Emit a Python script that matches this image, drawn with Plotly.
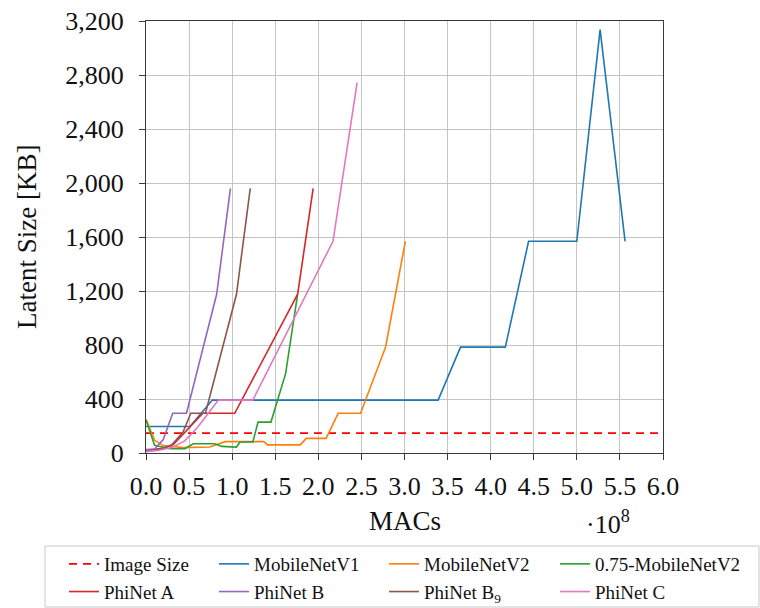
import plotly.graph_objects as go

# MACs are given in units of 1e8, latent sizes in KB
image_size_x = [0.0, 6.0]
image_size_y = [147, 147]

mnv1_x = [0.0, 0.51, 0.77, 3.39, 3.65, 4.17, 4.44, 5.00, 5.27, 5.56]
mnv1_y = [196, 196, 392, 392, 784, 784, 1568, 1568, 3136, 1568]

mnv2_x = [0.0, 0.10, 0.20, 0.43, 0.74, 0.92, 1.37, 1.41, 1.79, 1.86, 2.09, 2.23, 2.49, 2.78, 3.01]
mnv2_y = [250, 94, 55, 40, 44, 84, 84, 60, 60, 108, 108, 294, 294, 784, 1568]

mnv2_075_x = [0.0, 0.10, 0.28, 0.45, 0.55, 0.80, 0.88, 1.05, 1.09, 1.24, 1.30, 1.45, 1.62, 1.76]
mnv2_075_y = [245, 57, 32, 32, 69, 69, 49, 44, 81, 81, 229, 229, 588, 1176]

phinet_a_x = [0.0, 0.10, 0.20, 0.32, 0.45, 0.66, 1.03, 1.76, 1.94]
phinet_a_y = [20, 25, 35, 64, 150, 294, 294, 1176, 1960]

phinet_b_x = [0.0, 0.10, 0.20, 0.31, 0.47, 0.82, 0.98]
phinet_b_y = [25, 30, 100, 294, 294, 1176, 1960]

phinet_b9_x = [0.0, 0.10, 0.20, 0.30, 0.43, 0.52, 0.69, 1.05, 1.21]
phinet_b9_y = [15, 20, 35, 60, 155, 294, 294, 1176, 1960]

phinet_c_x = [0.0, 0.15, 0.30, 0.45, 0.60, 0.84, 1.24, 2.17, 2.45]
phinet_c_y = [10, 20, 40, 90, 190, 392, 392, 1568, 2744]

x_ticks = [0.0, 0.5, 1.0, 1.5, 2.0, 2.5, 3.0, 3.5, 4.0, 4.5, 5.0, 5.5, 6.0]
x_tick_labels = ["0.0", "0.5", "1.0", "1.5", "2.0", "2.5", "3.0", "3.5",
                 "4.0", "4.5", "5.0", "5.5", "6.0"]
y_ticks = [0, 400, 800, 1200, 1600, 2000, 2400, 2800, 3200]

FONT = "Liberation Serif"

series = [
    ("Image Size", image_size_x, image_size_y, "#ff0000", "8px,6px", "legend"),
    ("MobileNetV1", mnv1_x, mnv1_y, "#1f77b4", "solid", "legend2"),
    ("MobileNetV2", mnv2_x, mnv2_y, "#ff7f0e", "solid", "legend3"),
    ("0.75-MobileNetV2", mnv2_075_x, mnv2_075_y, "#2ca02c", "solid", "legend4"),
    ("PhiNet A", phinet_a_x, phinet_a_y, "#d62728", "solid", "legend"),
    ("PhiNet B", phinet_b_x, phinet_b_y, "#9467bd", "solid", "legend2"),
    ("PhiNet B<sub>9</sub>", phinet_b9_x, phinet_b9_y, "#8c564b", "solid", "legend3"),
    ("PhiNet C", phinet_c_x, phinet_c_y, "#e377c2", "solid", "legend4"),
]

fig = go.Figure()
for name, xs, ys, color, dash, leg in series:
    fig.add_trace(go.Scatter(
        x=xs, y=ys, mode="lines", name=name,
        line=dict(color=color, width=1.6, dash=dash),
        legend=leg,
    ))

W, H = 760, 608
L, R, T, B = 146, 97, 21, 155
pw, ph = W - L - R, H - T - B


def px_x(p):
    return (p - L) / pw


def px_y(p):
    return (H - B - p) / ph


axis_common = dict(
    showline=True, mirror=True, linecolor="#3a3a3a", linewidth=1.3,
    showgrid=True, gridcolor="#c4c4c4", gridwidth=1.2,
    ticks="outside", ticklen=6, tickwidth=1.2, tickcolor="#3a3a3a",
    zeroline=False, automargin=False,
    tickfont=dict(family=FONT, size=26, color="#111111"),
)

fig.update_layout(
    width=W, height=H,
    margin=dict(l=L, r=R, t=T, b=B, autoexpand=False),
    paper_bgcolor="white", plot_bgcolor="white",
    xaxis=dict(range=[0, 6], tickvals=x_ticks, ticktext=x_tick_labels,
               ticklabelstandoff=4, **axis_common),
    yaxis=dict(range=[0, 3200], tickvals=y_ticks, tickformat=",d",
               ticklabelstandoff=10, **axis_common),
    showlegend=True,
)

legend_style = dict(
    orientation="v", yanchor="top", xanchor="left",
    y=px_y(545), bgcolor="rgba(0,0,0,0)", borderwidth=0,
    font=dict(family=FONT, size=19, color="#111111"),
    itemclick=False, itemdoubleclick=False,
)
fig.update_layout(
    legend=dict(x=px_x(64), **legend_style),
    legend2=dict(x=px_x(214), **legend_style),
    legend3=dict(x=px_x(384), **legend_style),
    legend4=dict(x=px_x(555), **legend_style),
)

# legend frame
fig.add_shape(type="rect", xref="paper", yref="paper",
              x0=px_x(45), x1=px_x(759), y0=px_y(607), y1=px_y(546),
              line=dict(color="#c8c8c8", width=1), fillcolor="rgba(0,0,0,0)")

fig.add_annotation(text="MACs", xref="paper", yref="paper",
                   x=0.5, y=px_y(521), xanchor="center", yanchor="middle",
                   showarrow=False, font=dict(family=FONT, size=27, color="#111111"))
fig.add_annotation(text="\u00b710<sup>8</sup>", xref="paper", yref="paper",
                   x=px_x(632), y=px_y(522), xanchor="right", yanchor="middle",
                   showarrow=False, font=dict(family=FONT, size=26, color="#111111"))
fig.add_annotation(text="Latent Size [KB]", xref="paper", yref="paper",
                   x=px_x(27), y=0.5, xanchor="center", yanchor="middle",
                   textangle=-90, showarrow=False,
                   font=dict(family=FONT, size=27, color="#111111"))

fig.write_html("out.html")
